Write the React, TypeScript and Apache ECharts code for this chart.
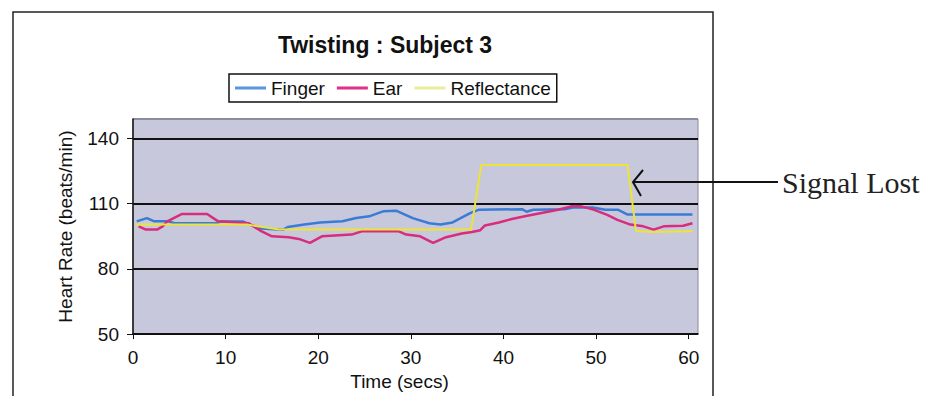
import React, { useEffect, useRef } from "react";
import * as echarts from "echarts";

const titleText = "Twisting : Subject 3";
const seriesNames = ["Finger", "Ear", "Reflectance"];
const seriesColors = ["#3a7bd5", "#d82c7c", "#ece436"];
const legendColors = ["#5b95dc", "#e0308a", "#e8ec9c"];

const xTicks = [0, 10, 20, 30, 40, 50, 60];
const yTicks = [50, 80, 110, 140];

const fingerData: [number, number][] = [
  [0.4, 101.9], [1.5, 103.4], [2.3, 101.9], [3.8, 101.9], [4.5, 101.0], [9.0, 101.0],
  [9.4, 101.8], [11.9, 101.8], [12.6, 100.4], [13.9, 98.6], [16.2, 98.0], [16.7, 99.3],
  [18.5, 100.4], [20.2, 101.4], [22.6, 101.9], [24.1, 103.4], [25.5, 104.2], [27.0, 106.5],
  [28.4, 106.8], [30.2, 103.4], [32.0, 101.0], [33.2, 100.4], [34.5, 101.4], [36.4, 105.7],
  [37.3, 107.2], [42.0, 107.5], [42.5, 106.3], [43.2, 107.2], [46.6, 107.5], [47.5, 108.3],
  [49.6, 108.3], [51.0, 107.2], [52.4, 107.2], [53.4, 105.0], [60.4, 105.0],
];

const earData: [number, number][] = [
  [0.6, 99.6], [1.4, 98.1], [2.6, 98.1], [3.2, 99.6], [3.7, 101.9], [5.3, 105.3],
  [8.0, 105.3], [9.2, 101.9], [12.5, 101.0], [13.0, 99.6], [13.9, 97.3], [15.0, 95.0],
  [16.8, 94.6], [17.9, 93.8], [19.1, 92.0], [20.4, 95.0], [23.6, 95.8], [24.7, 97.3],
  [28.7, 97.3], [29.5, 95.8], [31.0, 95.0], [32.4, 92.0], [33.8, 94.6], [35.5, 96.3],
  [36.6, 97.0], [37.5, 97.8], [38.0, 100.0], [39.5, 101.4], [40.9, 103.0], [42.3, 104.2],
  [44.1, 105.7], [45.9, 107.2], [47.3, 108.8], [48.4, 108.8], [49.8, 107.2], [51.2, 104.9],
  [52.3, 102.6], [53.7, 100.4], [55.1, 99.6], [56.2, 98.1], [57.3, 99.6], [59.4, 99.9],
  [60.4, 101.0],
];

const reflectanceData: [number, number][] = [
  [0.3, 100.4], [12.3, 100.4], [15.8, 98.1], [36.5, 98.1], [37.6, 127.8], [53.4, 127.8],
  [54.3, 97.5], [56.5, 97.0], [60.4, 97.5],
];

const annotationText = "Signal Lost";

const SANS = "'Liberation Sans', Arial, sans-serif";

export default function App() {
  const ref = useRef<HTMLDivElement>(null);
  useEffect(() => {
    if (!ref.current) return;
    const chart = echarts.init(ref.current, undefined, { renderer: "svg" });
    const datasets = [fingerData, earData, reflectanceData];
    chart.setOption({
      animation: false,
      backgroundColor: "#ffffff",
      title: {
        text: titleText,
        left: 380,
        textAlign: "center",
        top: 28,
        textStyle: { fontFamily: SANS, fontSize: 23, fontWeight: "bold", color: "#111" },
      },
      legend: {
        data: seriesNames.map((name, i) => ({ name, itemStyle: { color: legendColors[i] } })),
        icon: "rect",
        left: 229,
        top: 74,
        borderColor: "#111",
        borderWidth: 1.5,
        padding: [4, 6],
        itemWidth: 31,
        itemHeight: 3,
        itemGap: 12,
        textStyle: { fontFamily: SANS, fontSize: 19, color: "#111", lineHeight: 20 },
      },
      grid: {
        left: 133,
        top: 119,
        right: 234,
        bottom: 59,
        show: true,
        backgroundColor: "#c8c8dc",
        borderColor: "#8c8ca0",
        borderWidth: 1,
      },
      xAxis: {
        type: "value",
        min: 0,
        max: 61,
        interval: 10,
        name: "Time (secs)",
        nameLocation: "middle",
        nameGap: 37,
        nameTextStyle: { fontFamily: SANS, fontSize: 19, color: "#111", padding: [0, 32, 0, 0] },
        axisLine: { show: true, onZero: false, lineStyle: { color: "#111", width: 1.5 } },
        axisTick: { show: true, inside: false, length: 5, lineStyle: { color: "#111" } },
        axisLabel: {
          showMaxLabel: false,
          margin: 14,
          fontFamily: SANS,
          fontSize: 19,
          color: "#111",
          formatter: (v: number) => (xTicks.includes(v) ? String(v) : ""),
        },
        splitLine: { show: false },
      },
      yAxis: {
        type: "value",
        min: 50,
        max: 149,
        interval: 30,
        name: "Heart Rate (beats/min)",
        nameLocation: "middle",
        nameGap: 58,
        nameTextStyle: { fontFamily: SANS, fontSize: 19, color: "#111" },
        axisLine: { show: true, lineStyle: { color: "#111", width: 1.5 } },
        axisTick: { show: true, inside: false, length: 6, lineStyle: { color: "#111" } },
        axisLabel: {
          showMaxLabel: false,
          margin: 14,
          fontFamily: SANS,
          fontSize: 19,
          color: "#111",
          formatter: (v: number) => (yTicks.includes(v) ? String(v) : ""),
        },
        splitLine: {
          show: true,
          lineStyle: { color: ["#111", "#111", "#111", "#111", "#8c8ca0"], width: 2 },
        },
      },
      series: seriesNames.map((name, i) => ({
        name,
        type: "line",
        data: datasets[i],
        showSymbol: false,
        symbol: "none",
        lineStyle: { color: seriesColors[i], width: i === 2 ? 2 : 2.5 },
        itemStyle: { color: seriesColors[i] },
        z: 2 + i,
      })),
      graphic: [
        {
          type: "rect",
          shape: { x: 13, y: 12, width: 700, height: 420 },
          style: { fill: "none", stroke: "#222", lineWidth: 1.5 },
          silent: true,
        },
        {
          type: "line",
          shape: { x1: 778, y1: 182, x2: 634, y2: 182 },
          style: { stroke: "#111", lineWidth: 2 },
          z: 100,
        },
        {
          type: "polyline",
          shape: { points: [[643, 170], [633, 182], [641, 196]] },
          style: { stroke: "#111", lineWidth: 2, fill: "none" },
          z: 100,
        },
        {
          type: "text",
          x: 782,
          y: 182,
          style: {
            text: annotationText,
            fontFamily: "'Liberation Serif', 'Times New Roman', serif",
            fontSize: 30,
            fill: "#222",
            verticalAlign: "middle",
            align: "left",
          },
        },
      ],
    });
    return () => chart.dispose();
  }, []);
  return (
    <div
      ref={ref}
      style={{ position: "fixed", left: 0, top: 0, width: 932, height: 396 }}
    />
  );
}
